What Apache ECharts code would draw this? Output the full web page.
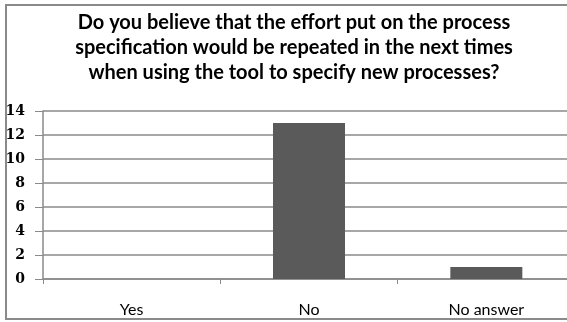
<!DOCTYPE html>
<html>
<head>
<meta charset="utf-8">
<script src="https://cdn.jsdelivr.net/npm/echarts@6/dist/echarts.min.js"></script>
<style>
html,body{margin:0;padding:0;background:#fff;}
#c{width:567px;height:322px;}
</style>
</head>
<body>
<div id="c"></div>
<script>
var titleText = "Do you believe that the effort put on the process\nspecification would be repeated in the next times\nwhen using the tool to specify new processes?";
var categories = ["Yes", "No", "No answer"];
var values = [0, 13, 1];
var yTicks = [0, 2, 4, 6, 8, 10, 12, 14];

var chart = echarts.init(document.getElementById('c'), null, {renderer: 'canvas'});
chart.setOption({
  backgroundColor: '#ffffff',
  animation: false,
  title: {
    text: titleText,
    left: 289,
    textAlign: 'center',
    top: 5,
    textStyle: {
      fontFamily: 'Lato',
      fontWeight: 'bold',
      fontSize: 20,
      lineHeight: 25,
      color: '#000'
    }
  },
  graphic: [{
    type: 'rect',
    shape: {x: 6, y: 5, width: 580, height: 314},
    style: {fill: 'none', stroke: '#8a8a8a', lineWidth: 2},
    silent: true
  }],
  grid: {left: 43, top: 111, width: 532, height: 168, outerBoundsMode: 'none', containLabel: false},
  xAxis: {
    type: 'category',
    data: categories,
    axisLine: {lineStyle: {color: '#8a8a8a', width: 1.5}},
    axisTick: {show: true, length: 5, lineStyle: {color: '#8a8a8a'}},
    axisLabel: {margin: 23, fontFamily: 'Lato', fontSize: 16, color: '#000'}
  },
  yAxis: {
    type: 'value',
    min: yTicks[0],
    max: yTicks[yTicks.length - 1],
    interval: 2,
    axisLine: {show: true, lineStyle: {color: '#8a8a8a', width: 1.5}},
    axisTick: {show: true, inside: false, length: 8, lineStyle: {color: '#8a8a8a'}},
    axisLabel: {margin: 18, fontFamily: 'DejaVu Serif', fontWeight: 'bold', fontSize: 14, color: '#000'},
    splitLine: {lineStyle: {color: '#8a8a8a', width: 1.5}}
  },
  series: [{
    type: 'bar',
    data: values,
    barWidth: 72,
    itemStyle: {color: '#5a5a5a'}
  }]
});
</script>
</body>
</html>
